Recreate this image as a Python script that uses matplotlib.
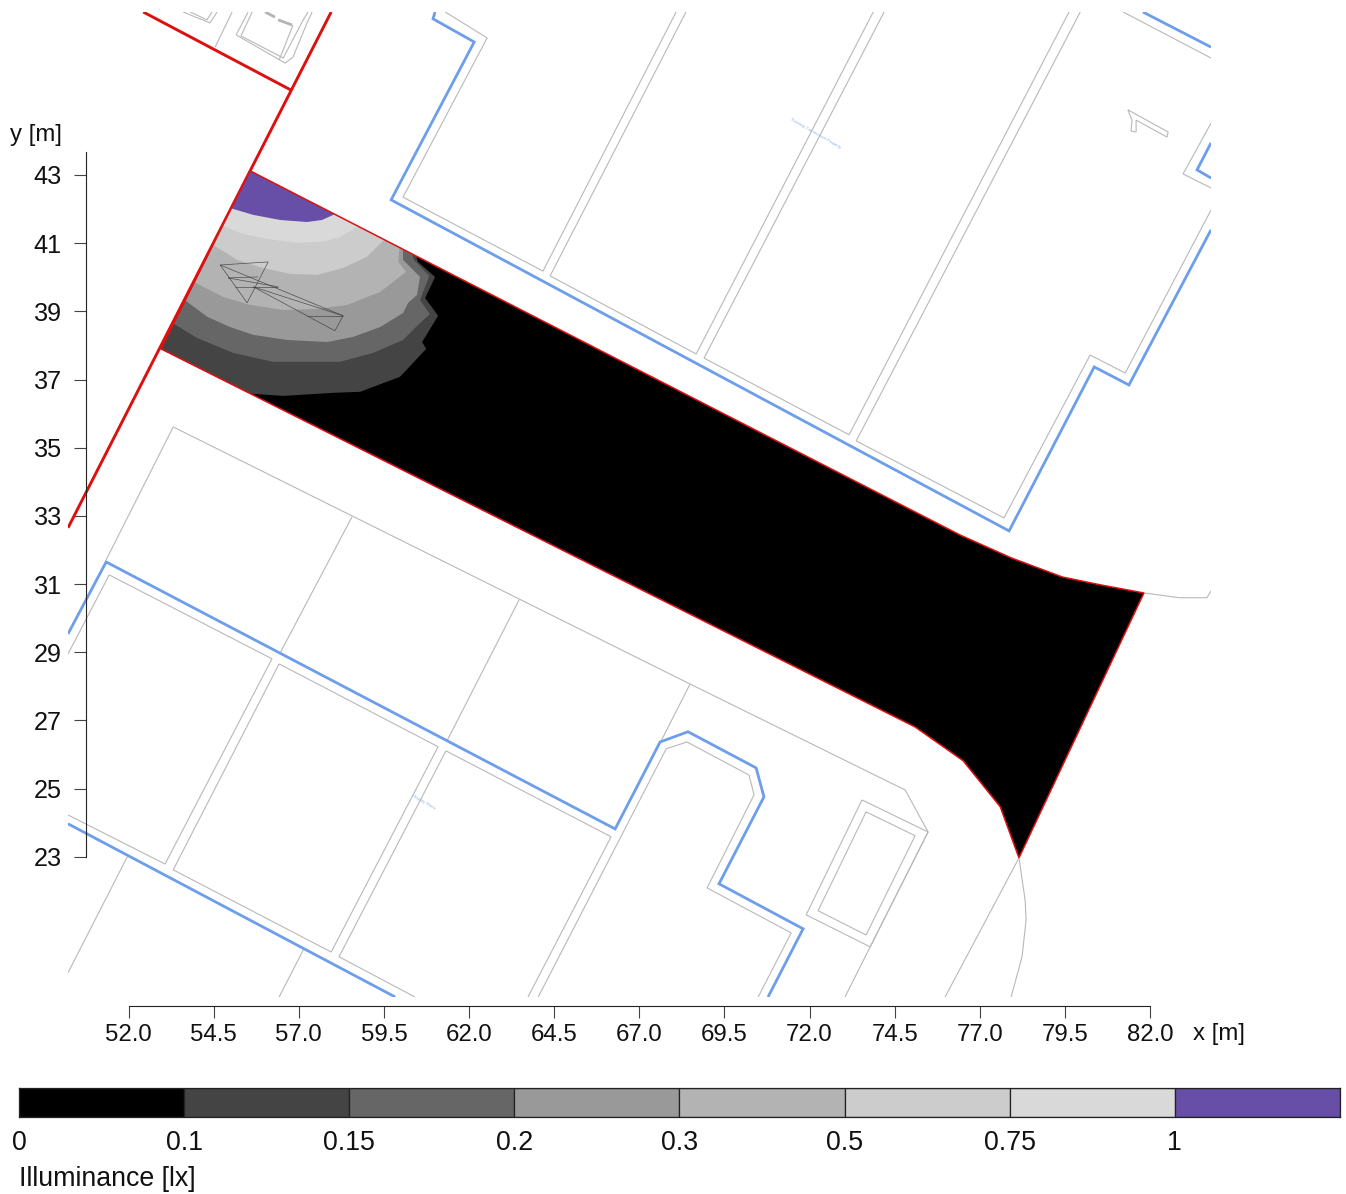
import matplotlib
matplotlib.use('Agg')
import matplotlib.pyplot as plt
from matplotlib.patches import Polygon

plt.rcParams['font.family'] = ['Liberation Sans', 'DejaVu Sans']

W, H = 1346, 1194
XLIM = (50.22, 83.79)
YLIM = (18.89, 47.78)

x_ticks = [52.0, 54.5, 57.0, 59.5, 62.0, 64.5, 67.0, 69.5, 72.0, 74.5, 77.0, 79.5, 82.0]
y_ticks = [23, 25, 27, 29, 31, 33, 35, 37, 39, 41, 43]

level_labels = ['0', '0.1', '0.15', '0.2', '0.3', '0.5', '0.75', '1']
level_colors = ['#000000', '#444444', '#666666', '#999999', '#b3b3b3', '#cccccc', '#d9d9d9', '#674ea7']

# Site outline [m]
site = [(55.57, 43.12), (76.42, 32.44), (77.92, 31.77), (79.42, 31.21), (80.53, 30.98), (81.82, 30.74),
        (78.15, 22.97), (77.60, 24.47), (76.51, 25.82), (75.10, 26.81), (52.95, 37.90)]
corner_top = (55.5, 43.4)
corner_left = (52.8, 37.7)

# Iso-illuminance boundaries [m]
iso_010 = [(55.20, 36.62), (55.66, 36.58), (56.54, 36.52), (58.01, 36.61), (58.80, 36.64), (59.97, 37.08),
           (60.74, 37.90), (60.62, 38.10), (61.09, 38.87), (60.71, 39.39), (61.00, 40.01), (60.50, 40.45),
           (60.41, 40.74)]
iso_015 = [(53.22, 38.70), (54.01, 38.22), (55.07, 37.78), (56.24, 37.52), (57.24, 37.52), (58.21, 37.52),
           (59.18, 37.78), (60.06, 38.16), (60.50, 38.60), (60.85, 38.92), (60.56, 39.33), (60.83, 40.04),
           (60.38, 40.51), (60.30, 40.80)]
iso_020 = [(53.57, 39.39), (54.31, 38.84), (54.98, 38.54), (55.66, 38.31), (56.66, 38.16), (57.83, 38.10),
           (58.59, 38.25), (59.39, 38.54), (60.06, 38.95), (60.21, 39.25), (60.47, 39.48), (60.56, 40.01),
           (60.06, 40.51), (60.06, 40.92)]
iso_030 = [(53.86, 39.89), (54.78, 39.42), (55.57, 39.19), (56.54, 39.04), (57.54, 39.07), (58.42, 39.19),
           (59.39, 39.57), (60.15, 40.16), (59.92, 40.45), (59.97, 40.98)]
iso_050 = [(54.33, 41.04), (55.19, 40.51), (55.95, 40.27), (56.74, 40.10), (57.54, 40.07), (58.30, 40.27),
           (59.00, 40.60), (59.59, 41.18)]
iso_075 = [(54.69, 41.54), (55.27, 41.30), (56.07, 41.12), (56.95, 41.01), (57.68, 41.04), (58.21, 41.18),
           (58.86, 41.56)]
iso_100 = [(54.95, 42.04), (55.66, 41.83), (56.45, 41.68), (57.24, 41.62), (57.68, 41.68), (58.21, 41.92)]

# Plan: red boundary lines [m]
red_lines = [
    [(52.43, 47.78), (56.77, 45.49)],
    [(57.95, 47.78), (50.22, 32.65)],
]

# Plan: blue building lines [m]
blue_lines = [
    [(61.00, 47.78), (60.94, 47.58), (62.15, 46.90), (59.71, 42.27), (77.86, 32.56), (80.36, 37.37),
     (81.38, 36.84), (83.79, 41.39)],
    [(81.79, 47.78), (83.79, 46.75)],
    [(83.79, 43.94), (83.38, 43.15), (83.79, 42.91)],
    [(50.22, 29.54), (51.34, 31.65), (66.29, 23.82), (67.61, 26.37), (68.43, 26.67), (70.43, 25.61),
     (70.66, 24.76), (69.34, 22.21), (71.81, 20.89), (70.78, 18.89)],
    [(50.22, 23.97), (59.83, 18.89)],
]

# Plan: grey outlines [m]
grey_lines = [
    [(61.30, 47.78), (62.53, 47.02), (60.06, 42.35), (64.17, 40.18), (68.08, 47.78)],
    [(68.37, 47.78), (64.38, 40.04), (68.67, 37.75), (73.87, 47.78)],
    [(74.19, 47.78), (68.90, 37.63), (73.16, 35.38), (79.62, 47.78)],
    [(79.95, 47.78), (73.37, 35.20), (77.71, 32.94), (80.24, 37.72), (81.27, 37.19), (83.79, 41.97)],
    [(81.21, 47.78), (83.79, 46.43)],
    [(83.79, 44.52), (82.97, 43.03), (83.79, 42.62)],
    [(81.35, 44.91), (82.53, 44.26), (82.50, 44.11), (81.59, 44.61), (81.59, 44.26), (81.44, 44.29),
     (81.47, 44.61), (81.35, 44.91)],
    [(50.22, 28.95), (51.43, 31.27), (56.21, 28.81), (53.07, 22.79), (50.22, 24.23)],
    [(56.42, 28.66), (61.09, 26.23), (57.95, 20.21), (53.31, 22.62), (56.42, 28.66)],
    [(60.41, 18.89), (58.18, 20.07), (61.32, 26.11), (66.17, 23.59), (63.73, 18.89)],
    [(64.03, 18.89), (67.79, 26.17), (68.40, 26.37), (70.22, 25.40), (70.37, 24.82), (68.99, 22.09),
     (71.46, 20.77), (70.49, 18.89)],
    [(51.34, 31.71), (53.31, 35.61), (68.49, 28.07), (74.81, 24.96), (75.48, 23.73), (73.78, 20.36), (73.04, 18.89)],
    [(63.47, 30.54), (61.35, 26.40)],
    [(58.56, 32.97), (56.45, 28.98)],
    [(68.49, 28.07), (67.64, 26.40)],
    [(73.54, 24.67), (75.48, 23.73), (73.78, 20.36), (71.90, 21.30), (73.54, 24.67)],
    [(73.66, 24.32), (75.10, 23.62), (73.66, 20.71), (72.25, 21.42), (73.66, 24.32)],
    [(78.15, 22.97), (75.98, 18.89)],
    [(78.15, 22.97), (78.33, 21.74), (78.36, 21.15), (78.24, 20.07), (77.92, 18.89)],
    [(81.82, 30.74), (82.88, 30.60), (83.67, 30.60), (83.79, 30.80)],
    [(51.96, 23.00), (50.22, 19.60)],
    [(57.13, 20.27), (56.42, 18.89)],
    [(55.04, 47.78), (54.54, 46.75)],
    [(53.60, 47.78), (54.39, 47.46), (54.60, 47.78)],
    [(53.81, 47.78), (54.30, 47.55), (54.45, 47.78)],
    [(55.51, 47.78), (55.16, 47.11), (56.60, 46.28), (56.83, 46.46), (57.24, 47.46), (57.39, 47.78)],
    [(55.63, 47.78), (55.30, 47.08), (56.54, 46.43), (57.13, 47.55), (57.27, 47.78)],
    [(56.83, 47.40), (56.42, 46.37)],
]
car_window_lines = [
    [(56.01, 47.78), (56.30, 47.63)],
    [(56.39, 47.55), (56.80, 47.40)],
]

# Luminaire symbol inside the site [m]
symbol_lines = [
    [(54.69, 40.36), (56.10, 40.45), (55.48, 39.25), (54.69, 40.36)],
    [(54.69, 40.36), (58.30, 38.87)],
    [(54.92, 39.98), (55.80, 40.01)],
    [(54.92, 39.98), (56.39, 39.72)],
    [(55.13, 39.72), (56.39, 39.72)],
    [(55.66, 39.72), (58.30, 38.87)],
    [(55.66, 39.72), (58.06, 38.43), (58.30, 38.87)],
    [(57.24, 38.87), (58.30, 38.87)],
]

plan_labels = [('Existing Commercial Property', 72.19, 44.22, -30),
               ('Display Show', 60.65, 24.60, -30)]

fig = plt.figure(figsize=(W / 100, H / 100), dpi=100)
ax = fig.add_axes([68 / W, 1 - 997 / H, (1211 - 68) / W, (997 - 12) / H])
ax.set_xlim(*XLIM)
ax.set_ylim(*YLIM)
ax.patch.set_alpha(0)


def draw(lines, color, lw, z, alpha=1.0):
    for line in lines:
        xs, ys = zip(*line)
        ax.plot(xs, ys, color=color, lw=lw, zorder=z, solid_joinstyle='miter', alpha=alpha,
                solid_capstyle='butt')


draw(grey_lines, '#b8b8b8', 0.8, 2)
draw(car_window_lines, '#b4b4b4', 2.0, 2)
draw(blue_lines, '#6d9eeb', 2.0, 3)
draw(red_lines, '#dd1010', 2.1, 4)

# Filled site and contour bands
base = Polygon(site, closed=True, facecolor=level_colors[0], edgecolor='none', zorder=5)
ax.add_patch(base)
bands = [
    (iso_010 + [corner_top, corner_left], level_colors[1]),
    (iso_015 + [corner_top], level_colors[2]),
    (iso_020 + [corner_top], level_colors[3]),
    (iso_030 + [corner_top], level_colors[4]),
    (iso_050 + [corner_top], level_colors[5]),
    (iso_075 + [corner_top], level_colors[6]),
    (iso_100 + [corner_top], level_colors[7]),
]
for i, (pts, col) in enumerate(bands):
    p = Polygon(pts, closed=True, facecolor=col, edgecolor='none', zorder=6 + i * 0.01)
    ax.add_patch(p)
    p.set_clip_path(base)

draw(symbol_lines, '#3c3c3c', 0.5, 7, alpha=0.85)
ax.add_patch(Polygon(site, closed=True, facecolor='none', edgecolor='#e01010', lw=1.1, zorder=8,
                     joinstyle='miter'))

for txt, tx, ty, rot in plan_labels:
    ax.text(tx, ty, txt, color='#8fb3ef', fontsize=3.2, rotation=rot, rotation_mode='anchor',
            ha='center', va='center', zorder=3)

# Axes
for s in ('top', 'right'):
    ax.spines[s].set_visible(False)
ax.spines['left'].set_position(('data', 50.74))
ax.spines['left'].set_bounds(23, 43.67)
ax.spines['left'].set_zorder(9)
ax.spines['bottom'].set_position(('outward', 6.5))
ax.spines['bottom'].set_bounds(52, 82)
for s in ('left', 'bottom'):
    ax.spines[s].set_linewidth(0.8)
    ax.spines[s].set_color('#222222')
ax.set_xticks(x_ticks)
ax.set_xticklabels([f'{v:.1f}' for v in x_ticks])
ax.set_yticks(y_ticks)
ax.set_yticklabels([str(v) for v in y_ticks])
ax.tick_params(axis='both', length=8.6, width=0.8, color='#444444', labelsize=17.3, labelcolor='#111111')
ax.tick_params(axis='x', pad=4.2)
ax.tick_params(axis='y', pad=8.5, labelsize=18.2)

fig.text(1193 / W, 1 - 1034 / H, 'x [m]', fontsize=17.3, color='#111111', ha='left', va='center')
fig.text(10 / W, 1 - 135.5 / H, 'y [m]', fontsize=17.3, color='#111111', ha='left', va='center')

# Legend bar
cax = fig.add_axes([19 / W, 1 - 1117 / H, (1340 - 19) / W, (1117 - 1087.5) / H])
cax.bar(range(len(level_colors)), [1] * len(level_colors), width=1, align='edge',
        color=level_colors, edgecolor='#222222', linewidth=0.9)
cax.set_xlim(0, len(level_colors))
cax.set_ylim(0, 1)
cax.set_yticks([])
cax.set_xticks(range(len(level_labels)))
cax.set_xticklabels(level_labels)
cax.tick_params(axis='x', length=0, pad=9, labelsize=19.3, labelcolor='#111111')
for s in cax.spines.values():
    s.set_linewidth(0.9)
    s.set_color('#222222')
fig.text(19 / W, 1 - 1179 / H, 'Illuminance [lx]', fontsize=19.3, color='#111111', ha='left', va='center')

fig.savefig('out.png', dpi=100)
